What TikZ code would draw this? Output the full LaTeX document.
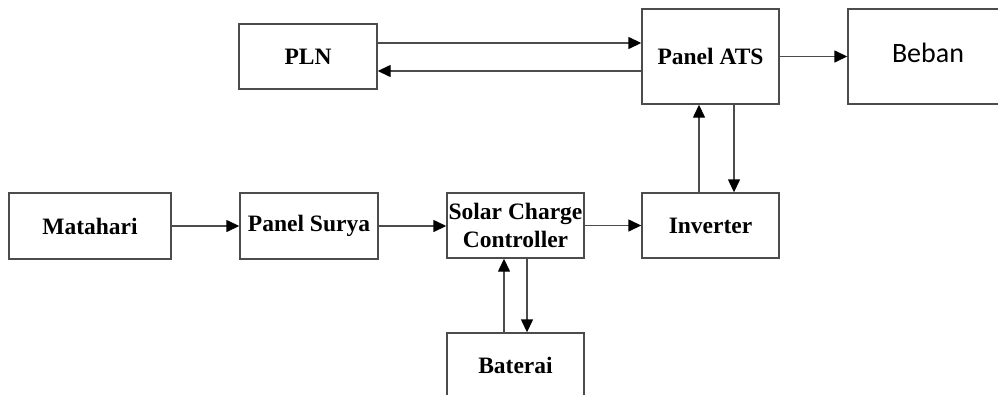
\documentclass[tikz,border=0pt]{standalone}
\usepackage{fontspec}
\setmainfont{Liberation Serif}
\newfontfamily\bebanfont{Carlito}
\usetikzlibrary{arrows.meta}
\begin{document}
\begin{tikzpicture}[x=1pt,y=-1pt,
  blk/.style={draw=black!70,line width=1.4pt,fill=white,inner sep=0pt,
    font=\fontsize{23.5}{28}\selectfont\bfseries,align=center},
  arr/.style={draw=black!70,line width=1.4pt,-{Triangle[length=13pt,width=12pt,fill=black,color=black]}}]
\useasboundingbox (0,0) rectangle (998,394);
\clip (0,0) rectangle (998,394);
\node[blk,minimum width=138pt,minimum height=65pt] (pln) at (308,56.5) {PLN};
\node[blk,minimum width=137pt,minimum height=95pt] (ats) at (710.5,56.5) {Panel ATS};
\node[blk,minimum width=164pt,minimum height=95pt] (beban) at (930,56.5) {};
\node[font=\bebanfont\fontsize{28}{32}\selectfont,inner sep=0pt,anchor=base] (bebantxt) at (928,62) {Beban};
\node[blk,minimum width=162pt,minimum height=66pt] (mat) at (90,226) {Matahari};
\node[blk,minimum width=138pt,minimum height=66pt] (ps) at (309,226) {Panel Surya};
\node[blk,minimum width=137pt,minimum height=65pt] (scc) at (515.5,225.5) {Solar Charge\\Controller};
\node[blk,minimum width=137pt,minimum height=65pt] (inv) at (710.5,225.5) {Inverter};
\node[blk,minimum width=137pt,minimum height=70pt] (bat) at (515.5,368) {};
\node[font=\fontsize{23.5}{28}\selectfont\bfseries,inner sep=0pt] (battxt) at (515.5,365) {Baterai};
% PLN <-> ATS
\draw[arr] ([yshift=13.5pt]pln.east) -- ([yshift=13.5pt]pln.east -| ats.west);
\draw[arr] ([yshift=-14.5pt]pln.east -| ats.west) -- ([yshift=-14.5pt]pln.east);
% ATS -> Beban
\draw[arr] (ats.east) -- (beban.west);
% bottom chain
\draw[arr] (mat.east) -- (ps.west);
\draw[arr] (ps.east) -- (ps.east -| scc.west);
\draw[arr] (scc.east) -- (inv.west);
% Inverter <-> ATS
\draw[arr] ([xshift=-11.5pt]inv.north) -- ([xshift=-11.5pt]inv.north |- ats.south);
\draw[arr] ([xshift=23.5pt]ats.south) -- ([xshift=23.5pt]ats.south |- inv.north);
% SCC <-> Baterai
\draw[arr] ([xshift=-11.5pt]bat.north) -- ([xshift=-11.5pt]bat.north |- scc.south);
\draw[arr] ([xshift=11.5pt]scc.south) -- ([xshift=11.5pt]scc.south |- bat.north);
\end{tikzpicture}
\end{document}
